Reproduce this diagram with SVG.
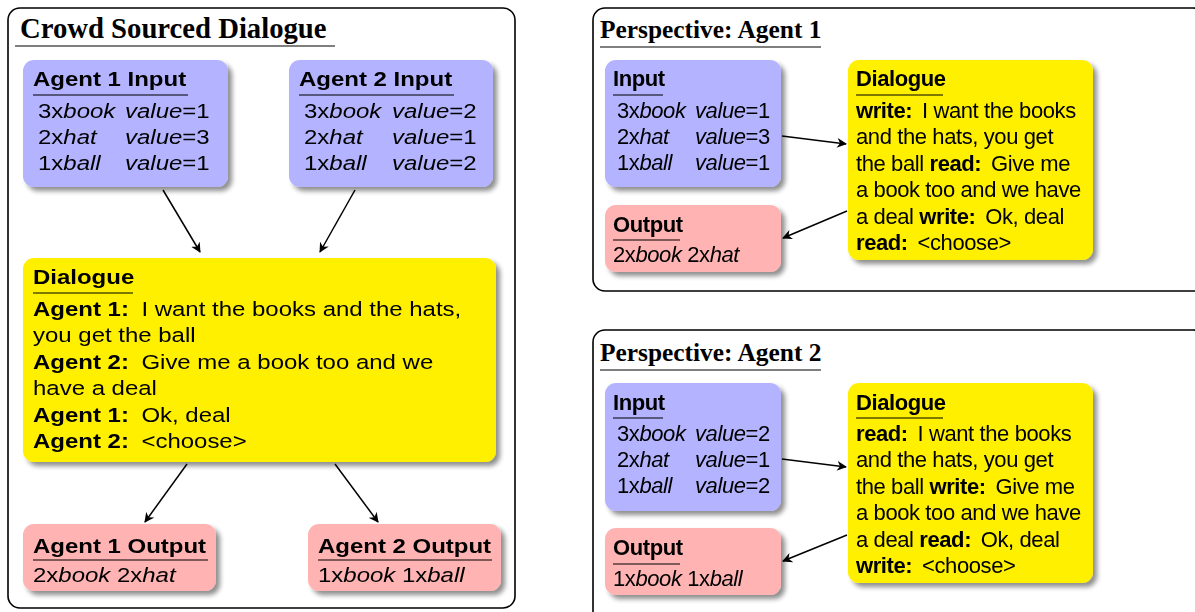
<svg xmlns="http://www.w3.org/2000/svg" width="1195" height="612" viewBox="0 0 1195 612">
<defs>
<filter id="sh" x="-10%" y="-10%" width="130%" height="130%">
<feGaussianBlur in="SourceAlpha" stdDeviation="2.5"/>
<feOffset dx="4" dy="4" result="b"/>
<feComponentTransfer><feFuncA type="linear" slope="0.45"/></feComponentTransfer>
<feMerge><feMergeNode/><feMergeNode in="SourceGraphic"/></feMerge>
</filter>
<marker id="ah" viewBox="0 0 10 10" refX="9" refY="5" markerWidth="10" markerHeight="10" markerUnits="userSpaceOnUse" orient="auto">
<path d="M0,0 L10,5 L0,10 L3,5 Z" fill="#000"/>
</marker>
</defs>
<style>
.panel{fill:#fff;stroke:#000;stroke-width:1.6}
.ptitle{font-family:"Liberation Serif",serif;font-weight:bold;fill:#000}
.lt{font-size:28.7px}
.rt{font-size:25.4px}
.ul{stroke:#000;stroke-width:1.2}
.in{fill:#b3b3ff}
.out{fill:#ffb3b3}
.dlg{fill:#fff000}
.t{font-family:"Liberation Sans",Arial,sans-serif;fill:#000}
.L{font-size:20.5px}
.R{font-size:22px;letter-spacing:-0.4px}
.b{font-weight:bold}
.i{font-style:italic}
.conn line{stroke:#000;stroke-width:1.5;marker-end:url(#ah)}
</style>

<g id="panel-crowd">
<rect class="panel" x="8" y="8" width="507" height="600" rx="12"/>
<text class="ptitle lt" x="20" y="38">Crowd Sourced Dialogue</text>
<line class="ul" x1="15" y1="46" x2="335" y2="46"/>
</g>

<g id="a1-input" filter="url(#sh)">
<rect class="in" x="23" y="60" width="205" height="127" rx="11"/>
<line class="ul" x1="33" y1="95" x2="188" y2="95"/>
<g transform="scale(1.17,1)">
<text class="t L b" x="28.21" y="86">Agent 1 Input</text>
<text class="t L" x="32.48" y="118">3x<tspan class="i">book</tspan></text><text class="t L" x="106.84" y="118"><tspan class="i">value</tspan>=1</text>
<text class="t L" x="32.48" y="144">2x<tspan class="i">hat</tspan></text><text class="t L" x="106.84" y="144"><tspan class="i">value</tspan>=3</text>
<text class="t L" x="32.48" y="170">1x<tspan class="i">ball</tspan></text><text class="t L" x="106.84" y="170"><tspan class="i">value</tspan>=1</text>
</g>
</g>

<g id="a2-input" filter="url(#sh)">
<rect class="in" x="289" y="60" width="204" height="127" rx="11"/>
<line class="ul" x1="299" y1="95" x2="454" y2="95"/>
<g transform="scale(1.17,1)">
<text class="t L b" x="255.56" y="86">Agent 2 Input</text>
<text class="t L" x="259.83" y="118">3x<tspan class="i">book</tspan></text><text class="t L" x="335.04" y="118"><tspan class="i">value</tspan>=2</text>
<text class="t L" x="259.83" y="144">2x<tspan class="i">hat</tspan></text><text class="t L" x="335.04" y="144"><tspan class="i">value</tspan>=1</text>
<text class="t L" x="259.83" y="170">1x<tspan class="i">ball</tspan></text><text class="t L" x="335.04" y="170"><tspan class="i">value</tspan>=2</text>
</g>
</g>

<g id="crowd-dialogue" filter="url(#sh)">
<rect class="dlg" x="23" y="258" width="473" height="204" rx="11"/>
<line class="ul" x1="33" y1="293" x2="133" y2="293"/>
<g transform="scale(1.17,1)">
<text class="t L b" x="28.21" y="284">Dialogue</text>
<text class="t L" x="28.21" y="316"><tspan class="b">Agent 1:</tspan><tspan dx="5"> I want the books and the hats,</tspan></text>
<text class="t L" x="28.21" y="342">you get the ball</text>
<text class="t L" x="28.21" y="369"><tspan class="b">Agent 2:</tspan><tspan dx="5"> Give me a book too and we</tspan></text>
<text class="t L" x="28.21" y="395">have a deal</text>
<text class="t L" x="28.21" y="422"><tspan class="b">Agent 1:</tspan><tspan dx="5"> Ok, deal</tspan></text>
<text class="t L" x="28.21" y="448"><tspan class="b">Agent 2:</tspan><tspan dx="5"> &lt;choose&gt;</tspan></text>
</g>
</g>

<g id="a1-output" filter="url(#sh)">
<rect class="out" x="23" y="524" width="193" height="67" rx="11"/>
<line class="ul" x1="33" y1="560" x2="208" y2="560"/>
<g transform="scale(1.17,1)">
<text class="t L b" x="28.21" y="553">Agent 1 Output</text>
<text class="t L" x="28.21" y="582">2x<tspan class="i">book</tspan> 2x<tspan class="i">hat</tspan></text>
</g>
</g>

<g id="a2-output" filter="url(#sh)">
<rect class="out" x="308" y="524" width="193" height="67" rx="11"/>
<line class="ul" x1="318" y1="560" x2="492" y2="560"/>
<g transform="scale(1.17,1)">
<text class="t L b" x="271.79" y="553">Agent 2 Output</text>
<text class="t L" x="271.79" y="582">1x<tspan class="i">book</tspan> 1x<tspan class="i">ball</tspan></text>
</g>
</g>

<g id="panel-p1">
<rect class="panel" x="593" y="8" width="612" height="283" rx="12"/>
<text class="ptitle rt" x="600" y="38">Perspective: Agent 1</text>
<line class="ul" x1="600" y1="47" x2="821" y2="47"/>
</g>

<g id="p1-input" filter="url(#sh)">
<rect class="in" x="605" y="60" width="176" height="127" rx="11"/>
<text class="t R b" x="613" y="86">Input</text>
<line class="ul" x1="613" y1="95" x2="663" y2="95"/>
<text class="t R" x="617" y="118">3x<tspan class="i">book</tspan></text><text class="t R" x="695" y="118"><tspan class="i">value</tspan>=1</text>
<text class="t R" x="617" y="144">2x<tspan class="i">hat</tspan></text><text class="t R" x="695" y="144"><tspan class="i">value</tspan>=3</text>
<text class="t R" x="617" y="170">1x<tspan class="i">ball</tspan></text><text class="t R" x="695" y="170"><tspan class="i">value</tspan>=1</text>
</g>

<g id="p1-output" filter="url(#sh)">
<rect class="out" x="605" y="205" width="176" height="67" rx="11"/>
<text class="t R b" x="613" y="232">Output</text>
<line class="ul" x1="613" y1="240" x2="680" y2="240"/>
<text class="t R" x="613" y="262">2x<tspan class="i">book</tspan> 2x<tspan class="i">hat</tspan></text>
</g>

<g id="p1-dialogue" filter="url(#sh)">
<rect class="dlg" x="848" y="60" width="245" height="200" rx="11"/>
<text class="t R b" x="856" y="86">Dialogue</text>
<line class="ul" x1="856" y1="95" x2="943" y2="95"/>
<text class="t R" x="856" y="118"><tspan class="b">write:</tspan><tspan dx="4"> I want the books</tspan></text>
<text class="t R" x="856" y="144">and the hats, you get</text>
<text class="t R" x="856" y="171">the ball <tspan class="b">read:</tspan><tspan dx="4"> Give me</tspan></text>
<text class="t R" x="856" y="197">a book too and we have</text>
<text class="t R" x="856" y="224">a deal <tspan class="b">write:</tspan><tspan dx="4"> Ok, deal</tspan></text>
<text class="t R" x="856" y="250"><tspan class="b">read:</tspan><tspan dx="4"> &lt;choose&gt;</tspan></text>
</g>

<g id="panel-p2">
<rect class="panel" x="593" y="330" width="612" height="300" rx="12"/>
<text class="ptitle rt" x="600" y="361">Perspective: Agent 2</text>
<line class="ul" x1="600" y1="370" x2="821" y2="370"/>
</g>

<g id="p2-input" filter="url(#sh)">
<rect class="in" x="605" y="383" width="176" height="128" rx="11"/>
<text class="t R b" x="613" y="410">Input</text>
<line class="ul" x1="613" y1="418" x2="663" y2="418"/>
<text class="t R" x="617" y="441">3x<tspan class="i">book</tspan></text><text class="t R" x="695" y="441"><tspan class="i">value</tspan>=2</text>
<text class="t R" x="617" y="467">2x<tspan class="i">hat</tspan></text><text class="t R" x="695" y="467"><tspan class="i">value</tspan>=1</text>
<text class="t R" x="617" y="493">1x<tspan class="i">ball</tspan></text><text class="t R" x="695" y="493"><tspan class="i">value</tspan>=2</text>
</g>

<g id="p2-output" filter="url(#sh)">
<rect class="out" x="605" y="528" width="176" height="67" rx="11"/>
<text class="t R b" x="613" y="555">Output</text>
<line class="ul" x1="613" y1="564" x2="680" y2="564"/>
<text class="t R" x="613" y="586">1x<tspan class="i">book</tspan> 1x<tspan class="i">ball</tspan></text>
</g>

<g id="p2-dialogue" filter="url(#sh)">
<rect class="dlg" x="848" y="383" width="245" height="200" rx="11"/>
<text class="t R b" x="856" y="410">Dialogue</text>
<line class="ul" x1="856" y1="418" x2="943" y2="418"/>
<text class="t R" x="856" y="441"><tspan class="b">read:</tspan><tspan dx="4"> I want the books</tspan></text>
<text class="t R" x="856" y="467">and the hats, you get</text>
<text class="t R" x="856" y="494">the ball <tspan class="b">write:</tspan><tspan dx="4"> Give me</tspan></text>
<text class="t R" x="856" y="520">a book too and we have</text>
<text class="t R" x="856" y="547">a deal <tspan class="b">read:</tspan><tspan dx="4"> Ok, deal</tspan></text>
<text class="t R" x="856" y="573"><tspan class="b">write:</tspan><tspan dx="4"> &lt;choose&gt;</tspan></text>
</g>

<g id="connectors" class="conn">
<line x1="163" y1="190" x2="200" y2="252"/>
<line x1="355" y1="190" x2="320" y2="252"/>
<line x1="187" y1="464" x2="145" y2="522"/>
<line x1="335" y1="464" x2="378" y2="522"/>
<line x1="782" y1="136" x2="846" y2="144"/>
<line x1="847" y1="211" x2="783" y2="238"/>
<line x1="782" y1="459" x2="846" y2="467"/>
<line x1="847" y1="535" x2="783" y2="561"/>
</g>
</svg>
